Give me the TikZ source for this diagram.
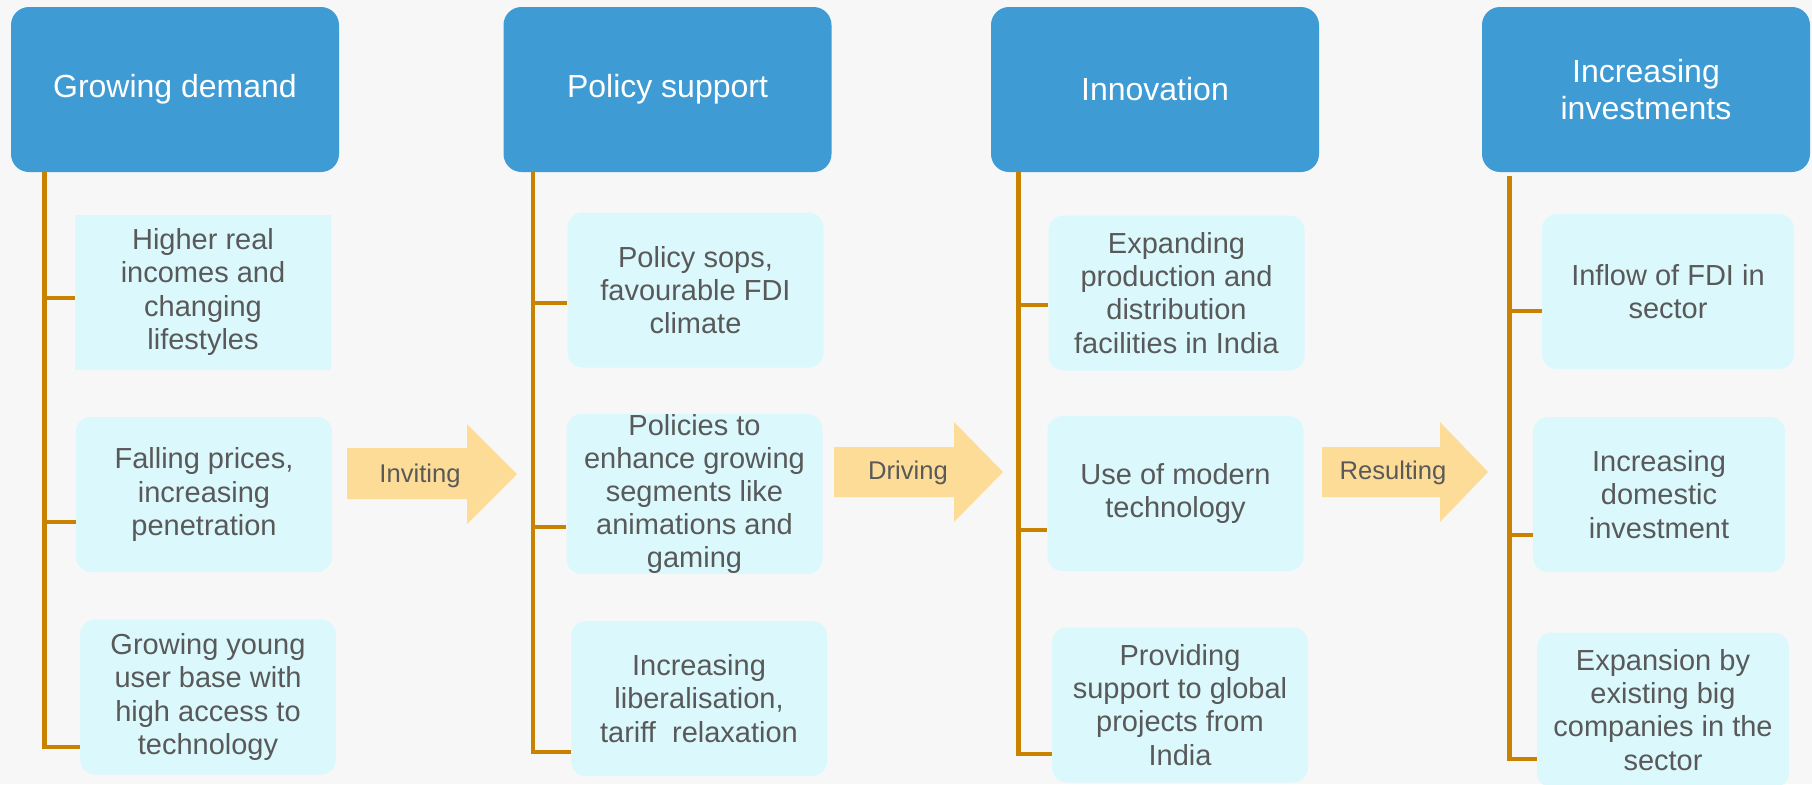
\documentclass[tikz,border=0pt]{standalone}
\usepackage{fontspec}
\setmainfont{Liberation Sans}
\definecolor{headblue}{HTML}{3E9BD4}
\definecolor{itemcyan}{HTML}{DBF9FD}
\definecolor{textgray}{HTML}{595959}
\definecolor{trunkorange}{HTML}{C88200}
\definecolor{flowyellow}{HTML}{FCDC96}
\definecolor{paper}{HTML}{F7F7F7}

\begin{document}
\begin{tikzpicture}[x=0.5pt,y=-0.5pt,
  head/.style={fill=headblue, rounded corners=9pt, minimum width=164pt, minimum height=82.5pt,
    inner sep=0pt, text=white, align=center, font=\fontsize{16}{18.5}\selectfont},
  item/.style={fill=itemcyan, rounded corners=7.5pt, minimum width=128pt, minimum height=77.5pt,
    inner sep=0pt, text=textgray, align=center, font=\fontsize{14.5}{16.6}\selectfont},
  trunk/.style={draw=trunkorange, line width=2.2pt},
  flow/.style={fill=flowyellow},
  flowlabel/.style={text=textgray, font=\fontsize{12.8}{14}\selectfont}]
\fill [paper] (0,0) rectangle (1812,784);
\useasboundingbox (0,0) rectangle (1812,784);
% headers
\node [head] (gd) at (175,89.5) {Growing demand};
\node [head] (ps) at (667.5,89.5) {Policy support};
\node [head] (in) at (1155,89.5) {Innovation};
\node [head] (iv) at (1646,89.5) {Increasing\\investments};
% items
\node [item, sharp corners] (gd1) at (203,292) {Higher real\\incomes and\\changing\\lifestyles};
\node [item] (gd2) at (204,494.5) {Falling prices,\\increasing\\penetration};
\node [item] (gd3) at (208,697) {Growing young\\user base with\\high access to\\technology};
\node [item] (ps1) at (695.5,290) {Policy sops,\\favourable FDI\\climate};
\node [item] (ps2) at (694.5,494) {Policies to\\enhance growing\\segments like\\animations and\\gaming};
\node [item] (ps3) at (699,698.5) {Increasing\\liberalisation,\\tariff~~relaxation};
\node [item] (in1) at (1176.5,293) {Expanding\\production and\\distribution\\facilities in India};
\node [item] (in2) at (1175.5,493.5) {Use of modern\\technology};
\node [item] (in3) at (1180,705) {Providing\\support to global\\projects from\\India};
\node [item, minimum width=126pt] (iv1) at (1668,291.5) {Inflow of FDI in\\sector};
\node [item, minimum width=126pt] (iv2) at (1659,494.5) {Increasing\\domestic\\investment};
\node [item, minimum width=126pt] (iv3) at (1663,710) {Expansion by\\existing big\\companies in the\\sector};
% trunks
\coordinate (gdt) at ([xshift=17pt]gd.south west);
\coordinate (pst) at ([xshift=15pt]ps.south west);
\coordinate (int) at ([xshift=14pt]in.south west);
\coordinate (ivt) at ([xshift=14pt,yshift=-2pt]iv.south west);
\foreach \n/\s in {gd1/-3pt, gd2/-13.75pt, gd3/-25pt, ps1/-6.5pt, ps2/-16.5pt, ps3/-26.75pt,
    in1/-6pt, in2/-18.25pt, in3/-24.5pt, iv1/-9.75pt, iv2/-20.25pt, iv3/-24.5pt}
  \coordinate (\n b) at ([yshift=\s]\n.west);
\foreach \c in {gd, ps, in, iv} {
  \draw [trunk] (\c t) |- (\c 3b);
  \draw [trunk] (\c t |- \c 1b) -- (\c 1b);
  \draw [trunk] (\c t |- \c 2b) -- (\c 2b);
}
% flow arrows
\fill [flow] (347,448) -- (467,448) -- (467,424) -- (517,474) -- (467,524) -- (467,499) -- (347,499) -- cycle;
\node [flowlabel] (inviting) at (420,476) {Inviting};
\fill [flow] (834,447) -- (954,447) -- (954,422) -- (1003,472) -- (954,522) -- (954,497) -- (834,497) -- cycle;
\node [flowlabel] (driving) at (908,473) {Driving};
\fill [flow] (1322,447) -- (1440,447) -- (1440,422) -- (1488,472) -- (1440,522) -- (1440,497) -- (1322,497) -- cycle;
\node [flowlabel] (resulting) at (1393,473) {Resulting};
\end{tikzpicture}
\end{document}
